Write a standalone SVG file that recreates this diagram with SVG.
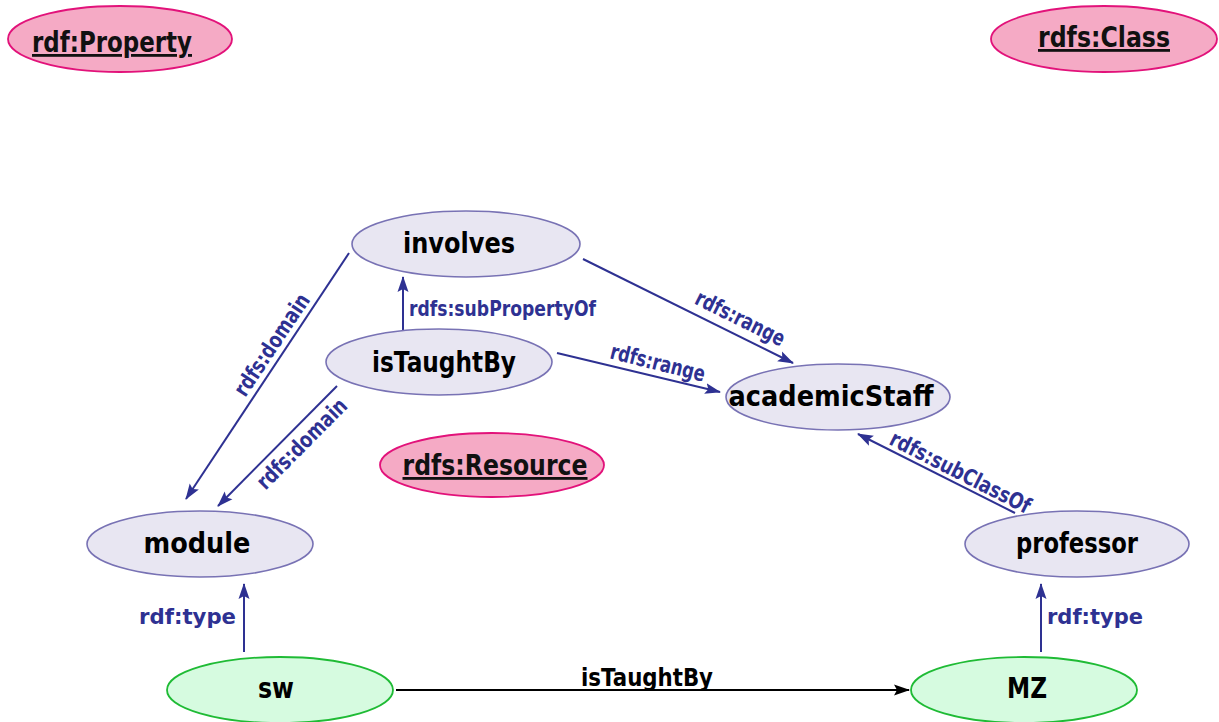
<svg xmlns="http://www.w3.org/2000/svg" width="1219" height="722" viewBox="0 0 1219 722">
  <style>
    .cls ellipse { fill: #e8e6f2; stroke: #7872b4; stroke-width: 1.6; }
    .meta ellipse { fill: #f5aac5; stroke: #e2127a; stroke-width: 1.8; }
    .inst ellipse { fill: #d6fbe0; stroke: #1fbb35; stroke-width: 1.8; }
    .node text { font-family: "DejaVu Sans", "Liberation Sans", sans-serif; font-weight: bold; font-size: 28px; fill: #000; text-anchor: middle; }
    .meta text { font-size: 28px; text-decoration: underline; fill: #111; }
    .edge { stroke: #2e3192; stroke-width: 2; fill: none; }
    .edge-black { stroke: #000; stroke-width: 2; fill: none; }
    .lbl { font-family: "DejaVu Sans", "Liberation Sans", sans-serif; font-weight: bold; font-size: 22px; fill: #2e3192; }
    .lbl-black { font-family: "DejaVu Sans", "Liberation Sans", sans-serif; font-weight: bold; font-size: 24px; fill: #000; text-anchor: middle; }
  </style>
  <defs>
    <marker id="arrow-blue" markerUnits="userSpaceOnUse" markerWidth="16" markerHeight="12" viewBox="0 0 16 12" refX="15" refY="6" orient="auto">
      <path d="M0,0.5 L16,6 L0,11.5 L3,6 z" fill="#2e3192"/>
    </marker>
    <marker id="arrow-black" markerUnits="userSpaceOnUse" markerWidth="16" markerHeight="12" viewBox="0 0 16 12" refX="15" refY="6" orient="auto">
      <path d="M0,0.5 L16,6 L0,11.5 L3,6 z" fill="#000"/>
    </marker>
  </defs>

  <!-- connectors -->
  <g id="connectors">
    <line class="edge" x1="349" y1="253" x2="186" y2="499" marker-end="url(#arrow-blue)"/>
    <text class="lbl" text-anchor="middle" transform="translate(278,349) rotate(-56.3)" textLength="118" lengthAdjust="spacingAndGlyphs">rdfs:domain</text>

    <line class="edge" x1="337" y1="386" x2="218" y2="506" marker-end="url(#arrow-blue)"/>
    <text class="lbl" text-anchor="middle" transform="translate(307,449) rotate(-45.2)" textLength="118" lengthAdjust="spacingAndGlyphs">rdfs:domain</text>

    <line class="edge" x1="403" y1="330" x2="403" y2="277" marker-end="url(#arrow-blue)"/>
    <text class="lbl" x="409" y="316" textLength="187" lengthAdjust="spacingAndGlyphs">rdfs:subPropertyOf</text>

    <line class="edge" x1="583" y1="259" x2="793" y2="363" marker-end="url(#arrow-blue)"/>
    <text class="lbl" text-anchor="middle" transform="translate(737,325) rotate(26.5)" textLength="97" lengthAdjust="spacingAndGlyphs">rdfs:range</text>

    <line class="edge" x1="557" y1="353" x2="720" y2="392" marker-end="url(#arrow-blue)"/>
    <text class="lbl" text-anchor="middle" transform="translate(656,370) rotate(14)" textLength="97" lengthAdjust="spacingAndGlyphs">rdfs:range</text>

    <line class="edge" x1="1015" y1="513" x2="858" y2="434" marker-end="url(#arrow-blue)"/>
    <text class="lbl" text-anchor="middle" transform="translate(957,479) rotate(27)" textLength="155" lengthAdjust="spacingAndGlyphs">rdfs:subClassOf</text>

    <line class="edge" x1="244" y1="652" x2="244" y2="584" marker-end="url(#arrow-blue)"/>
    <text class="lbl" x="236" y="624" text-anchor="end" textLength="97" lengthAdjust="spacingAndGlyphs">rdf:type</text>

    <line class="edge" x1="1041" y1="652" x2="1041" y2="584" marker-end="url(#arrow-blue)"/>
    <text class="lbl" x="1047" y="624" textLength="96" lengthAdjust="spacingAndGlyphs">rdf:type</text>

    <line class="edge-black" x1="396" y1="690" x2="909" y2="690" marker-end="url(#arrow-black)"/>
    <text class="lbl-black" x="647" y="686" textLength="132" lengthAdjust="spacingAndGlyphs">isTaughtBy</text>
  </g>

  <!-- RDF vocabulary nodes -->
  <g id="rdf-property" class="node meta">
    <ellipse cx="120" cy="39" rx="112" ry="33"/>
    <text x="112" y="52" textLength="160" lengthAdjust="spacingAndGlyphs">rdf:Property</text>
  </g>
  <g id="rdfs-class" class="node meta">
    <ellipse cx="1104" cy="39" rx="113" ry="33"/>
    <text x="1104" y="47" textLength="132" lengthAdjust="spacingAndGlyphs">rdfs:Class</text>
  </g>
  <g id="rdfs-resource" class="node meta">
    <ellipse cx="492" cy="465" rx="112" ry="32"/>
    <text x="495" y="475" textLength="185" lengthAdjust="spacingAndGlyphs">rdfs:Resource</text>
  </g>

  <!-- schema nodes -->
  <g id="involves" class="node cls">
    <ellipse cx="466" cy="244" rx="114" ry="33"/>
    <text x="459" y="253" textLength="112" lengthAdjust="spacingAndGlyphs">involves</text>
  </g>
  <g id="isTaughtBy" class="node cls">
    <ellipse cx="439" cy="362" rx="113" ry="33"/>
    <text x="444" y="372" textLength="144" lengthAdjust="spacingAndGlyphs">isTaughtBy</text>
  </g>
  <g id="academicStaff" class="node cls">
    <ellipse cx="838" cy="397" rx="112" ry="33"/>
    <text x="831" y="406" textLength="205" lengthAdjust="spacingAndGlyphs">academicStaff</text>
  </g>
  <g id="module" class="node cls">
    <ellipse cx="200" cy="544" rx="113" ry="33"/>
    <text x="197" y="553" textLength="107" lengthAdjust="spacingAndGlyphs">module</text>
  </g>
  <g id="professor" class="node cls">
    <ellipse cx="1077" cy="544" rx="112" ry="33"/>
    <text x="1077" y="553" textLength="122" lengthAdjust="spacingAndGlyphs">professor</text>
  </g>

  <!-- instance nodes -->
  <g id="sw" class="node inst">
    <ellipse cx="280" cy="690" rx="113" ry="33"/>
    <text x="276" y="698" textLength="36" lengthAdjust="spacingAndGlyphs">sw</text>
  </g>
  <g id="MZ" class="node inst">
    <ellipse cx="1024" cy="690" rx="113" ry="33"/>
    <text x="1027" y="698" textLength="40" lengthAdjust="spacingAndGlyphs">MZ</text>
  </g>
</svg>
